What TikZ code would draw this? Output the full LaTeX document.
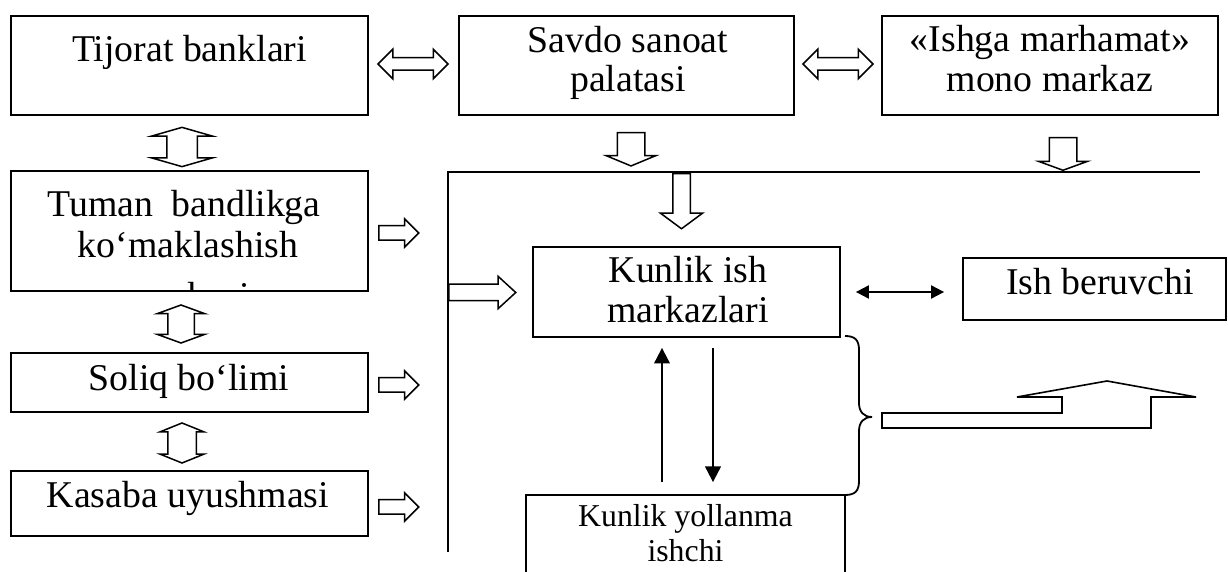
\documentclass[tikz,border=0pt]{standalone}
\usepackage{fontspec}
\setmainfont{Liberation Serif}
\usetikzlibrary{shapes.arrows,fit,arrows.meta}
\newcommand\mainfs{\fontsize{18.9}{21}\selectfont}
\newcommand\smallfs{\fontsize{15.9}{17}\selectfont}
\begin{document}
\begin{tikzpicture}[x=0.5pt,y=-0.5pt,
  bx/.style={draw, line width=0.9pt, inner sep=0pt},
  txt/.style={inner sep=0pt, font=\mainfs, anchor=base},
  stxt/.style={inner sep=0pt, font=\smallfs, anchor=base},
  sarr/.style n args={4}{shape=single arrow, draw, line width=0.75pt,
    inner sep=#3*0.25pt, single arrow head extend=(#2-#3)*0.25pt,
    minimum height=#1*0.5pt, minimum width=#2*0.5pt,
    single arrow tip angle=#4, anchor=tail},
  darr/.style n args={4}{shape=double arrow, draw, line width=0.75pt,
    inner sep=#3*0.25pt, double arrow head extend=(#2-#3)*0.25pt,
    minimum height=#1*0.5pt, minimum width=#2*0.5pt,
    double arrow tip angle=#4, anchor=center},
  blk/.style={line width=1pt},
  tipv/.style={-{Triangle[length=7.8pt,width=7.8pt]}},
  tiph/.style={{Triangle[length=6.5pt,width=6.5pt]}-{Triangle[length=6.5pt,width=6.5pt]}},
]
\useasboundingbox (0,0) rectangle (1228,572);
\clip (0,0) rectangle (1228,572);

% boxes
\node[bx, fit={(11,16)(368,115)}] (tij) {};
\node[txt] (tijt) at (189.5,62) {Tijorat banklari};

\node[bx, fit={(459,16)(794,115)}] (sav) {};
\node[txt] (sav1) at (628,53) {Savdo sanoat};
\node[txt] (sav2) at (628,92) {palatasi};

\node[bx, fit={(882,16)(1218,115)}] (ish) {};
\node[txt] (ish1) at (1050,52) {«Ishga marhamat»};
\node[txt] (ish2) at (1050,92) {mono markaz};

\node[bx, fit={(11,171)(368,291)}] (tum) {};
\begin{scope}
  \clip (tum.south west) rectangle (tum.north east);
  \node[txt] (tum1) at (184,217) {Tuman\hspace{4.5pt} bandlikga};
  \node[txt] (tum2) at (188,258) {ko‘maklashish};
  \node[txt] (tum3) at (189.5,309) {markazi};
\end{scope}

\node[bx, fit={(11,353)(368,412)}] (sol) {};
\node[txt] (solt) at (189,391) {Soliq bo‘limi};

\node[bx, fit={(11,471)(368,536)}] (kas) {};
\node[txt] (kast) at (188,508) {Kasaba uyushmasi};

\node[bx, fit={(533,247)(840,337)}] (kis) {};
\node[txt] (kis1) at (688,283) {Kunlik ish};
\node[txt] (kis2) at (688,323) {markazlari};

\node[bx, fit={(963,258)(1226,320)}] (ishb) {};
\node[txt] (ishbt) at (1100,295) {Ish beruvchi};

\node[bx, fit={(526,495)(845,640)}] (kyi) {};
\node[stxt] (kyi1) at (685.5,527) {Kunlik yollanma};
\node[stxt] (kyi2) at (685.5,561) {ishchi};

% hollow block arrows
\node[darr={70}{28}{11}{90}] (a1) at (413,64) {};
\node[darr={70}{28}{11}{90}] (a2) at (838,64) {};
\node[darr={31}{59}{29}{148}, rotate=90] (v1) at (182,147) {};
\node[darr={38}{46}{25}{140}, rotate=90] (v2) at (181,324) {};
\node[darr={31}{42}{27}{136}, rotate=90] (v3) at (182,443) {};
\node[sarr={40}{27}{13}{90}] (r1) at (378,233) {};
\node[sarr={40}{27}{13}{90}] (r2) at (378,385) {};
\node[sarr={40}{27}{13}{90}] (r3) at (378,507) {};
\node[sarr={25}{48}{26}{135}, rotate=-90] (d1) at (631,132) {};
\node[sarr={21}{47}{26}{140}, rotate=-90] (d2) at (1063,137) {};
\node[sarr={55}{41}{16}{107}, rotate=-90] (bd) at (681.5,173) {};
\node[sarr={67}{31}{15}{85}] (br) at (448,292.5) {};

% frame line
\coordinate (fb) at (448,552);
\coordinate (fc) at (448,172);
\coordinate (fe) at (1200,172);
\draw[line width=0.9pt] (fb) -- (fc) -- (fe);

% black arrows
\coordinate (upx) at (662,0);
\coordinate (dnx) at (713,0);
\draw[blk, tiph, shorten <=7.5pt, shorten >=9pt] (kis.east) -- (kis.east -| ishb.west);
\draw[blk, tipv, shorten <=6pt, shorten >=5pt] (kyi.north -| upx) -- (kis.south -| upx);
\draw[blk, tipv, shorten <=5pt, shorten >=6pt] (kis.south -| dnx) -- (kyi.north -| dnx);

% brace
\coordinate (bt) at (845,336);
\coordinate (bm) at (872,417);
\coordinate (bb) at (845,495);
\draw[line width=0.9pt] (bt) .. controls (855,336) and (859,340) .. (859,350)
  -- (859,403) .. controls (859,412) and (864,417) .. (bm)
  .. controls (864,417) and (859,422) .. (859,431)
  -- (859,481) .. controls (859,491) and (855,495) .. (bb);

% big hollow arrow
\draw[line width=0.8pt] (882,413) -- (1062,413) -- (1062,397) -- (1017,397)
  -- (1107,381) -- (1196,397) -- (1151,397) -- (1151,428) -- (882,428) -- cycle;
\end{tikzpicture}
\end{document}
